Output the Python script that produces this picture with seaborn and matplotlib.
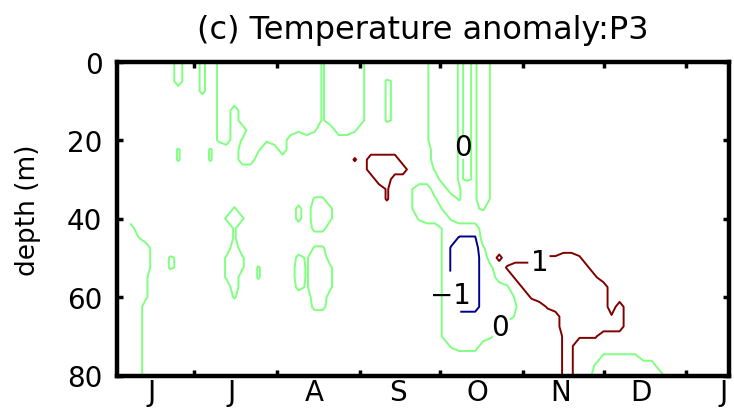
import numpy as np
import matplotlib
matplotlib.use("Agg")
import matplotlib.pyplot as plt
from matplotlib.ticker import NullFormatter
import seaborn as sns

sns.set_theme(style="white")
plt.rcParams["font.family"] = ["DejaVu Sans"]

# Section sampling grid: day counted from 1 June, depth in metres
days = np.arange(6, 232, 3)
depths = np.arange(0, 80.1, 2.5)

# Temperature anomaly classes (degC) used in the gridded section below
anomaly_code = {".": 0.5, ":": 0.1, ",": -0.1, ";": -0.25, "-": -0.5,
                "~": -1.1, "=": -1.5, "*": 1.1, "^": 1.25, "+": 1.5}

# One string per depth level (0 m at the top), one character per day column
anomaly_rows = [
    "......-. .;.,------ ------:--- -,.......: ---:,:-:.. .......... .......... ........",
    "......-. .;.,------ ------:--- -,.......: ---:,:-:.. .......... .......... ........",
    "......-. .;.,------ ------:--- -,..,:...: ---:,:-:.. .......... .......... ........",
    "........ .;.,------ ------:--- -,..,:...: ---:,:-:.. .......... .......... ........",
    "........ ...,------ ------:--- -,..,:...: ---:,:-:.. .......... .......... ........",
    "........ ...,-.---- ------:--- -,..,:...: ---:,:-:.. .......... .......... ........",
    "........ ...,-.---- ------:--- -,..,:...: ---:,:-:.. .......... .......... ........",
    "........ ...,-..--- ---,-,..-- ,........: ---:,:-:.. .......... .......... ........",
    "........ ...,-.,--, --........ .........: ---:,:-:.. .......... .......... ........",
    "......,. ..,...--,. .-........ .......... ---:,:-:.. .......... .......... ........",
    "......,. ..,...--.. .......... *.++++.... ---:,:-:.. .......... .......... ........",
    "........ .......... .......... ..+++++... ,--:,:-:.. .......... .......... ........",
    "........ .......... .......... ...++..... .--:,:-:.. .......... .......... ........",
    "........ .......... .......... ....*..:-- ..-,.:-:.. .......... .......... ........",
    "........ .......... .....,,... ....*..:-- ,..,.:-:.. .......... .......... ........",
    "........ .....,.... ...;.--,.. .......:-- -:...:,... .......... .......... ........",
    "........ ....,-,... ...;.--,.. ........,- --:....... .......... .......... ........",
    "-....... .....,.... .....;;... .......... .,----.... .......... .......... ........",
    "-,...... .....,.... .......... .......... .,-~~~.... .......... .......... ........",
    "---..... .....-.... .....,,... .......... .,~===,... .......... .......... ........",
    "---..,:. ....,-,... ...;:--... .......... .,~===-.^. ....**++*. .......... ........",
    "---..,:. ....,-,.,. ...-:--,.. .......... .,~===-,.* +++++++++* .......... ........",
    "--,..... ....,-..,. ...-:--,.. .......... .,~===--.. *+++++++++ *......... ........",
    "--,..... .....-.... ...;:--,.. .......... .,~===---, .*++++++++ ++........ ........",
    "--,..... .....,.... .....--... .......... .,~===---- :.*+++++++ ++........ ........",
    "--...... .......... .....;;... .......... .,~===---- ,...*+++++ ++.+...... ........",
    "--...... .......... .......... .......... .,-------- :.....++++ ++*+...... ........",
    "--...... .......... .......... .......... .,------,. ......++++ ++++...... ........",
    "--...... .......... .......... .......... .,-----,.. ......*+** *......... ........",
    "--...... .......... .......... .......... ..,---.... ......**.. .......... ........",
    "--...... .......... .......... .......... .......... ......**.. .,,,,,.... ........",
    "--...... .......... .......... .......... .......... ......**.. ,-------.. ........",
    "--...... .......... .......... .......... .......... ......**.. ---------. ........",
]

contour_levels = [-1, 0, 1]
level_colors = ["#00008f", "#80ff80", "#800000"]
level_text = {-1: "\u22121", 0: "0", 1: "1"}
label_spots = [(126.0, 59.5), (130.7, 21.8), (143.1, 66.9), (159.2, 51.1)]

month_starts = [30, 61, 92, 122, 153, 183, 214]
month_label_days = [14, 44, 75, 106, 136, 167, 197, 228]
month_letters = ["J", "J", "A", "S", "O", "N", "D", "J"]
depth_ticks = [0, 20, 40, 60, 80]

field = np.array([[anomaly_code[c] for c in row.replace(" ", "")]
                  for row in anomaly_rows])

fig = plt.figure(figsize=(7.34, 4.10), dpi=100, facecolor="white")
ax = fig.add_axes([117 / 734, 1 - 376.5 / 410, 612 / 734, 314 / 410])
ax.set_facecolor("white")
ax.set_xlim(1.1, 229.9)
ax.set_ylim(80, 0)

cs = ax.contour(days, depths, field, levels=contour_levels,
                colors=level_colors, linewidths=1.4)
texts = ax.clabel(cs, manual=label_spots, inline=True, inline_spacing=3,
                  fmt=level_text, fontsize=20, colors="black")
for t in texts:
    t.set_rotation(0)

for s in ax.spines.values():
    s.set_visible(True)
    s.set_color("black")
    s.set_linewidth(3.2)

ax.set_xticks(month_starts)
ax.xaxis.set_major_formatter(NullFormatter())
ax.set_xticks(month_label_days, minor=True)
ax.set_xticklabels(month_letters, minor=True)
ax.set_yticks(depth_ticks)
ax.set_yticklabels([str(v) for v in depth_ticks])

ax.tick_params(which="major", direction="in", length=4, width=2.5,
               color="black", top=True, bottom=True, left=True, right=True)
ax.tick_params(axis="x", which="minor", direction="in", length=0,
               bottom=True, labelsize=20, pad=2, labelcolor="black")
ax.tick_params(axis="y", which="major", labelsize=20, pad=10.5,
               labelcolor="black")

ax.set_ylabel("depth (m)", fontsize=19, color="black")
ax.yaxis.set_label_coords(-0.124, 0.53)
ax.set_title("(c) Temperature anomaly:P3", fontsize=23, pad=17,
             color="black")

fig.savefig("out.png", dpi=100, facecolor="white")
